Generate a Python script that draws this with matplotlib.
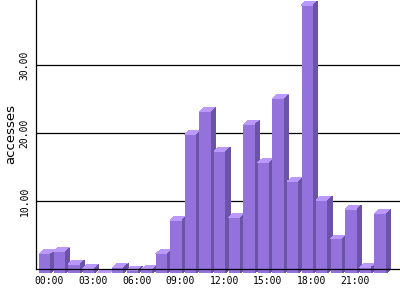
import matplotlib
matplotlib.use("Agg")
import matplotlib.pyplot as plt
from matplotlib.patches import Polygon

hours = list(range(24))
accesses = [2.8, 3.1, 1.3, 0.65, 0.0, 0.75, 0.4, 0.5, 2.8, 7.75, 20.4, 23.7,
            17.9, 8.1, 21.8, 16.2, 25.6, 13.4, 39.4, 10.7, 5.0, 9.4, 0.85, 8.7]
tick_hours = [0, 3, 6, 9, 12, 15, 18, 21]
tick_labels = ["00:00", "03:00", "06:00", "09:00", "12:00", "15:00", "18:00", "21:00"]
y_ticks = [10, 20, 30]
y_tick_labels = ["10.00", "20.00", "30.00"]

front_c = "#9372DC"
top_c = "#BB99FA"
side_c = "#6B54A8"

fig = plt.figure(figsize=(4, 3), dpi=100)
ax = fig.add_axes([36 / 400, 31 / 300, 364 / 400, 269 / 300])
ymax = 269 / 6.8
ax.set_ylim(0, ymax)
ax.set_xlim(-0.617, 24.35)

px_x = 1 / 14.58
px_y = 1 / 6.8
w = 11.8 * px_x
dx = 4.3 * px_x
dy = 4.0 * px_y

for i, (h, v) in enumerate(zip(hours, accesses)):
    z = 3 + i * 0.01
    ax.bar([h], [v], width=w, bottom=-dy, color=front_c, linewidth=0,
           zorder=z, clip_on=False, antialiased=False)
    top = Polygon([(h - w / 2, v - dy), (h + w / 2, v - dy),
                   (h + w / 2 + dx, v), (h - w / 2 + dx, v)],
                  closed=True, facecolor=top_c, linewidth=0, zorder=z,
                  clip_on=False, antialiased=False)
    side = Polygon([(h + w / 2, -dy), (h + w / 2 + dx, 0),
                    (h + w / 2 + dx, v), (h + w / 2, v - dy)],
                   closed=True, facecolor=side_c, linewidth=0, zorder=z,
                   clip_on=False, antialiased=False)
    ax.add_patch(top)
    ax.add_patch(side)

for yt in y_ticks:
    ax.axhline(yt, color="black", linewidth=0.9, zorder=1)

for s in ["top", "right"]:
    ax.spines[s].set_visible(False)
ax.spines["left"].set_linewidth(0.9)
ax.spines["bottom"].set_linewidth(0.9)
ax.spines["bottom"].set_zorder(10)
ax.spines["left"].set_zorder(10)

ax.set_xticks([t + dx for t in tick_hours])
ax.set_xticklabels(tick_labels, family="DejaVu Sans Mono", fontsize=7)
ax.set_yticks(y_ticks)
ax.set_yticklabels(y_tick_labels, family="DejaVu Sans Mono", fontsize=7,
                   rotation=90, va="center")
ax.tick_params(axis="x", length=0, pad=5)
ax.tick_params(axis="y", length=0, pad=4.5)

ax.set_ylabel("accesses", fontsize=9.5, rotation=90)
ax.yaxis.label.set_verticalalignment("baseline")
ax.yaxis.set_label_coords((14 - 36) / 364, 0.5)

fig.savefig("out.png", dpi=100)
